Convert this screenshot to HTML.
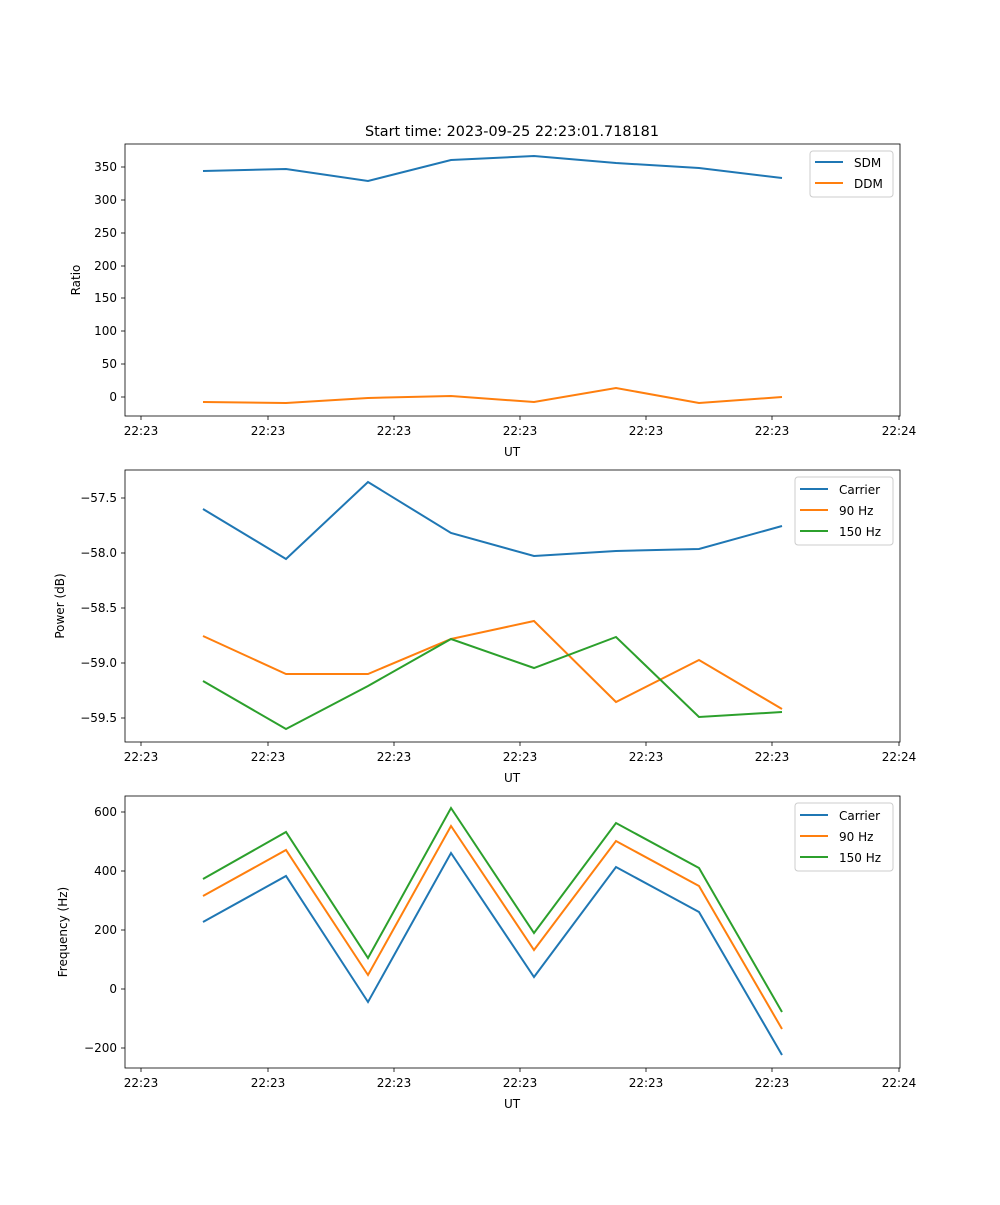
<!DOCTYPE html>
<html><head><meta charset="utf-8"><style>
body{margin:0;background:#fff}
svg text{font-family:"DejaVu Sans","Liberation Sans",sans-serif;font-size:12px;fill:#000}
</style></head><body>
<svg width="1000" height="1200" xmlns="http://www.w3.org/2000/svg">
<rect width="1000" height="1200" fill="#fff"/>
<text x="512" y="136" text-anchor="middle" style="font-size:14.4px">Start time: 2023-09-25 22:23:01.718181</text>

<!-- Panel 1 -->
<g>
<polyline fill="none" stroke="#1f77b4" stroke-width="2" points="203,171 286,169 368,181 451,160 534,156 616,163 699,168 782,178"/>
<polyline fill="none" stroke="#ff7f0e" stroke-width="2" points="203,402 286,403 368,398 451,396 534,402 616,388 699,403 782,397"/>
<rect x="125" y="144" width="775" height="272" fill="none" stroke="#000" stroke-width="0.8"/>
<g stroke="#000" stroke-width="0.8">
<line x1="125" x2="121" y1="167" y2="167"/><line x1="125" x2="121" y1="200" y2="200"/><line x1="125" x2="121" y1="233" y2="233"/><line x1="125" x2="121" y1="266" y2="266"/><line x1="125" x2="121" y1="298" y2="298"/><line x1="125" x2="121" y1="331" y2="331"/><line x1="125" x2="121" y1="364" y2="364"/><line x1="125" x2="121" y1="397" y2="397"/>
<line y1="416" y2="420" x1="141" x2="141"/><line y1="416" y2="420" x1="268" x2="268"/><line y1="416" y2="420" x1="394" x2="394"/><line y1="416" y2="420" x1="520" x2="520"/><line y1="416" y2="420" x1="646" x2="646"/><line y1="416" y2="420" x1="772" x2="772"/><line y1="416" y2="420" x1="899" x2="899"/>
</g>
<g text-anchor="end">
<text x="117" y="171">350</text><text x="117" y="204">300</text><text x="117" y="237">250</text><text x="117" y="270">200</text><text x="117" y="302">150</text><text x="117" y="335">100</text><text x="117" y="368">50</text><text x="117" y="401">0</text>
</g>
<g text-anchor="middle">
<text x="141" y="435">22:23</text><text x="268" y="435">22:23</text><text x="394" y="435">22:23</text><text x="520" y="435">22:23</text><text x="646" y="435">22:23</text><text x="772" y="435">22:23</text><text x="899" y="435">22:24</text>
<text x="512" y="456">UT</text>
</g>
<text transform="translate(80,280) rotate(-90)" text-anchor="middle">Ratio</text>
<rect x="810" y="151" width="83" height="46" rx="3" fill="#fff" stroke="#ccc"/>
<line x1="815" x2="843" y1="162" y2="162" stroke="#1f77b4" stroke-width="2"/><text x="854" y="167">SDM</text>
<line x1="815" x2="843" y1="183" y2="183" stroke="#ff7f0e" stroke-width="2"/><text x="854" y="188">DDM</text>
</g>

<!-- Panel 2 -->
<g>
<polyline fill="none" stroke="#1f77b4" stroke-width="2" points="203,509 286,559 368,482 451,533 534,556 616,551 699,549 782,526"/>
<polyline fill="none" stroke="#ff7f0e" stroke-width="2" points="203,636 286,674 368,674 451,639 534,621 616,702 699,660 782,709"/>
<polyline fill="none" stroke="#2ca02c" stroke-width="2" points="203,681 286,729 368,686 451,639 534,668 616,637 699,717 782,712"/>
<rect x="125" y="470" width="775" height="272" fill="none" stroke="#000" stroke-width="0.8"/>
<g stroke="#000" stroke-width="0.8">
<line x1="125" x2="121" y1="498" y2="498"/><line x1="125" x2="121" y1="553" y2="553"/><line x1="125" x2="121" y1="608" y2="608"/><line x1="125" x2="121" y1="663" y2="663"/><line x1="125" x2="121" y1="718" y2="718"/>
<line y1="742" y2="746" x1="141" x2="141"/><line y1="742" y2="746" x1="268" x2="268"/><line y1="742" y2="746" x1="394" x2="394"/><line y1="742" y2="746" x1="520" x2="520"/><line y1="742" y2="746" x1="646" x2="646"/><line y1="742" y2="746" x1="772" x2="772"/><line y1="742" y2="746" x1="899" x2="899"/>
</g>
<g text-anchor="end">
<text x="117" y="502">−57.5</text><text x="117" y="557">−58.0</text><text x="117" y="612">−58.5</text><text x="117" y="667">−59.0</text><text x="117" y="722">−59.5</text>
</g>
<g text-anchor="middle">
<text x="141" y="761">22:23</text><text x="268" y="761">22:23</text><text x="394" y="761">22:23</text><text x="520" y="761">22:23</text><text x="646" y="761">22:23</text><text x="772" y="761">22:23</text><text x="899" y="761">22:24</text>
<text x="512" y="782">UT</text>
</g>
<text transform="translate(64,606) rotate(-90)" text-anchor="middle">Power (dB)</text>
<rect x="795" y="477" width="98" height="68" rx="3" fill="#fff" stroke="#ccc"/>
<line x1="800" x2="828" y1="489" y2="489" stroke="#1f77b4" stroke-width="2"/><text x="839" y="494">Carrier</text>
<line x1="800" x2="828" y1="510" y2="510" stroke="#ff7f0e" stroke-width="2"/><text x="839" y="515">90 Hz</text>
<line x1="800" x2="828" y1="531" y2="531" stroke="#2ca02c" stroke-width="2"/><text x="839" y="536">150 Hz</text>
</g>

<!-- Panel 3 -->
<g>
<polyline fill="none" stroke="#1f77b4" stroke-width="2" points="203,922 286,876 368,1002 451,853 534,977 616,867 699,912 782,1055"/>
<polyline fill="none" stroke="#ff7f0e" stroke-width="2" points="203,896 286,850 368,975 451,826 534,950 616,841 699,886 782,1029"/>
<polyline fill="none" stroke="#2ca02c" stroke-width="2" points="203,879 286,832 368,958 451,808 534,933 616,823 699,868 782,1012"/>
<rect x="125" y="796" width="775" height="272" fill="none" stroke="#000" stroke-width="0.8"/>
<g stroke="#000" stroke-width="0.8">
<line x1="125" x2="121" y1="812" y2="812"/><line x1="125" x2="121" y1="871" y2="871"/><line x1="125" x2="121" y1="930" y2="930"/><line x1="125" x2="121" y1="989" y2="989"/><line x1="125" x2="121" y1="1048" y2="1048"/>
<line y1="1068" y2="1072" x1="141" x2="141"/><line y1="1068" y2="1072" x1="268" x2="268"/><line y1="1068" y2="1072" x1="394" x2="394"/><line y1="1068" y2="1072" x1="520" x2="520"/><line y1="1068" y2="1072" x1="646" x2="646"/><line y1="1068" y2="1072" x1="772" x2="772"/><line y1="1068" y2="1072" x1="899" x2="899"/>
</g>
<g text-anchor="end">
<text x="117" y="816">600</text><text x="117" y="875">400</text><text x="117" y="934">200</text><text x="117" y="993">0</text><text x="117" y="1052">−200</text>
</g>
<g text-anchor="middle">
<text x="141" y="1087">22:23</text><text x="268" y="1087">22:23</text><text x="394" y="1087">22:23</text><text x="520" y="1087">22:23</text><text x="646" y="1087">22:23</text><text x="772" y="1087">22:23</text><text x="899" y="1087">22:24</text>
<text x="512" y="1108">UT</text>
</g>
<text transform="translate(67,932) rotate(-90)" text-anchor="middle">Frequency (Hz)</text>
<rect x="795" y="803" width="98" height="68" rx="3" fill="#fff" stroke="#ccc"/>
<line x1="800" x2="828" y1="815" y2="815" stroke="#1f77b4" stroke-width="2"/><text x="839" y="820">Carrier</text>
<line x1="800" x2="828" y1="836" y2="836" stroke="#ff7f0e" stroke-width="2"/><text x="839" y="841">90 Hz</text>
<line x1="800" x2="828" y1="857" y2="857" stroke="#2ca02c" stroke-width="2"/><text x="839" y="862">150 Hz</text>
</g>
</svg>
</body></html>
